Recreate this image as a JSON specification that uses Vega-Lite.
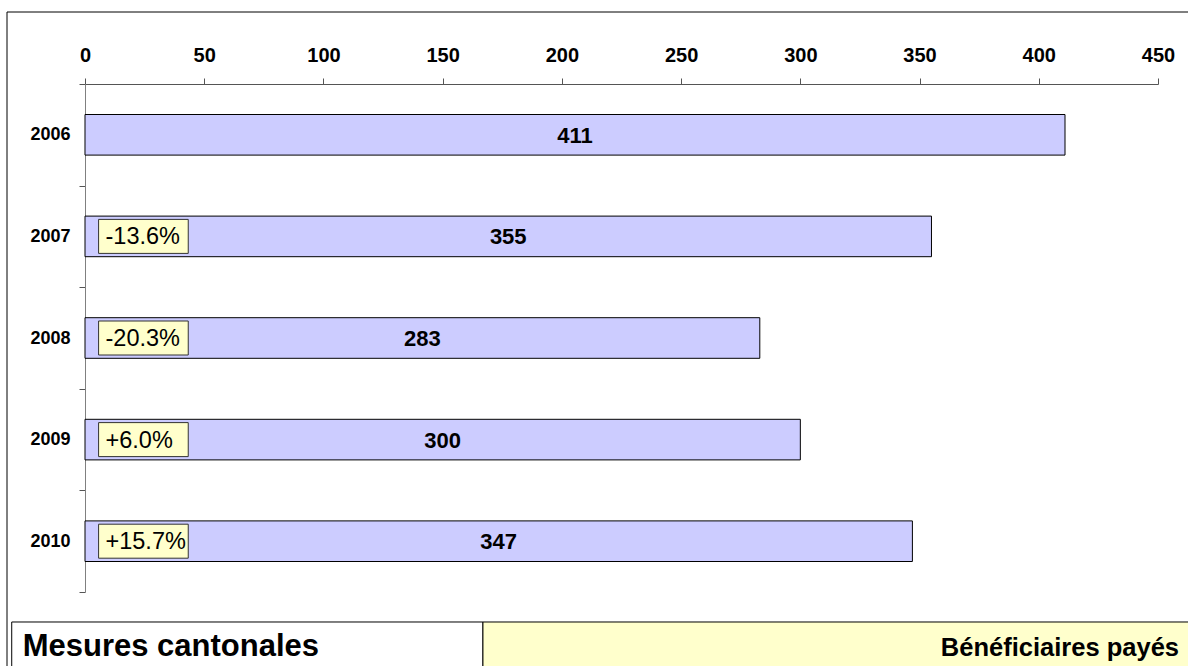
{
  "$schema": "https://vega.github.io/schema/vega-lite/v6.json",
  "width": 1181,
  "height": 654,
  "autosize": "none",
  "padding": {"left": 7, "top": 12, "right": 0, "bottom": 0},
  "background": "white",
  "config": {
    "font": "Liberation Sans",
    "view": {"stroke": null}
  },
  "data": {
    "values": [
      {"year": 2006, "value": 411, "change": null},
      {"year": 2007, "value": 355, "change": "-13.6%"},
      {"year": 2008, "value": 283, "change": "-20.3%"},
      {"year": 2009, "value": 300, "change": "+6.0%"},
      {"year": 2010, "value": 347, "change": "+15.7%"}
    ]
  },
  "resolve": {"scale": {"x": "independent", "y": "independent"}, "axis": {"x": "independent", "y": "independent"}},
  "layer": [
    {
      "layer": [
        {
          "mark": {"type": "bar", "fill": "#CCCCFF", "stroke": "black", "strokeWidth": 1, "size": 40.6},
          "encoding": {
            "x": {
              "field": "value", "type": "quantitative",
              "scale": {"domain": [0, 450], "range": [78, 1151], "nice": false, "zero": true},
              "axis": {
                "orient": "top", "offset": -72, "values": [0, 50, 100, 150, 200, 250, 300, 350, 400, 450],
                "grid": false, "title": null, "tickSize": 6, "tickColor": "#555555", "domainColor": "#555555",
                "labelFontSize": 20, "labelFontWeight": "bold", "labelColor": "black", "labelPadding": 13, "labelFlush": false
              }
            },
            "y": {
              "field": "year", "type": "nominal",
              "scale": {"domain": [2006, 2007, 2008, 2009, 2010], "range": [72, 580], "paddingInner": 0, "paddingOuter": 0},
              "axis": {
                "orient": "left", "offset": -78, "title": null, "tickBand": "extent", "tickSize": 6,
                "tickColor": "#555555", "domainColor": "#808080", "labelFontSize": 18, "labelFontWeight": "bold",
                "labelColor": "black", "labelPadding": 9
              }
            }
          }
        },
        {
          "transform": [{"filter": "datum.change != null"}],
          "mark": {"type": "bar", "fill": "#FFFFCC", "stroke": "#333333", "strokeWidth": 1, "size": 34},
          "encoding": {
            "x": {"datum": 5.7},
            "x2": {"datum": 43.3},
            "y": {"field": "year", "type": "nominal"}
          }
        },
        {
          "transform": [{"filter": "datum.change != null"}],
          "mark": {"type": "text", "align": "left", "baseline": "middle", "fontSize": 23.5, "color": "black", "dy": 1},
          "encoding": {
            "x": {"datum": 8.6},
            "y": {"field": "year", "type": "nominal"},
            "text": {"field": "change"}
          }
        }
      ]
    },
    {
      "mark": {"type": "text", "align": "center", "baseline": "middle", "fontSize": 22, "fontWeight": "bold", "color": "black", "dy": 1},
      "encoding": {
        "x": {
          "field": "value", "type": "quantitative",
          "scale": {"domain": [0, 450], "range": [78, 614.5], "nice": false, "zero": true},
          "axis": null
        },
        "y": {
          "field": "year", "type": "nominal",
          "scale": {"domain": [2006, 2007, 2008, 2009, 2010], "range": [72, 580], "paddingInner": 0, "paddingOuter": 0},
          "axis": null
        },
        "text": {"field": "value", "type": "quantitative"}
      }
    },
    {
      "data": {"values": [{"left": "Mesures cantonales", "right": "Bénéficiaires payés"}]},
      "layer": [
        {
          "mark": {"type": "rule", "color": "black", "strokeWidth": 1},
          "encoding": {
            "x": {"datum": 0, "type": "quantitative", "scale": {"domain": [0, 1], "nice": false, "zero": false}, "axis": null},
            "y": {"datum": -0.05, "type": "quantitative", "scale": {"domain": [0, 1], "nice": false, "zero": false}, "axis": null},
            "y2": {"datum": 1}
          }
        },
        {
          "mark": {"type": "rule", "color": "black", "strokeWidth": 1},
          "encoding": {
            "x": {"datum": 0, "type": "quantitative"},
            "x2": {"datum": 1.01},
            "y": {"datum": 1, "type": "quantitative"}
          }
        },
        {
          "mark": {"type": "rect", "fill": "white", "stroke": "black", "strokeWidth": 1},
          "encoding": {
            "x": {"datum": 0.004, "type": "quantitative"},
            "x2": {"datum": 0.403},
            "y": {"datum": 0.0673, "type": "quantitative"},
            "y2": {"datum": -0.05}
          }
        },
        {
          "mark": {"type": "rect", "fill": "#FFFFCC", "stroke": "black", "strokeWidth": 1},
          "encoding": {
            "x": {"datum": 0.403, "type": "quantitative"},
            "x2": {"datum": 1.01},
            "y": {"datum": 0.0673, "type": "quantitative"},
            "y2": {"datum": -0.05}
          }
        },
        {
          "mark": {"type": "text", "align": "left", "baseline": "alphabetic", "fontSize": 31, "fontWeight": "bold", "color": "black"},
          "encoding": {
            "x": {"datum": 0.0133, "type": "quantitative"},
            "y": {"datum": 0.0153, "type": "quantitative"},
            "text": {"field": "left"}
          }
        },
        {
          "mark": {"type": "text", "align": "right", "baseline": "alphabetic", "fontSize": 25.5, "fontWeight": "bold", "color": "black"},
          "encoding": {
            "x": {"datum": 0.9924, "type": "quantitative"},
            "y": {"datum": 0.0153, "type": "quantitative"},
            "text": {"field": "right"}
          }
        }
      ]
    }
  ]
}
